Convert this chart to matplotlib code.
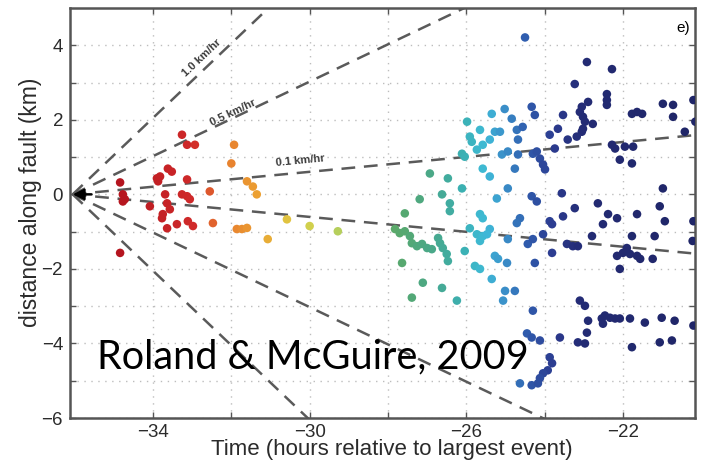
import numpy as np
import matplotlib
matplotlib.use("Agg")
import matplotlib.pyplot as plt
from matplotlib.colors import LinearSegmentedColormap

# event times (hours relative to largest event) and distance along fault (km)
times = [
    -34.84, -34.77, -34.72, -34.77, -34.84, -34.08,
    -33.90, -33.82, -33.62, -33.52, -33.87,
    -33.69, -33.64, -33.57, -33.75, -33.77,
    -33.64, -33.39, -33.26, -33.13, -32.93, -33.13,
    -33.26, -33.13, -33.06, -33.11, -32.98, -32.47,
    -32.55, -32.00, -31.93, -31.86, -31.60, -31.45, -31.35, -31.73, -31.60, -31.07,
    -30.58, -30.00, -29.28,
    -26.93, -26.47, -26.62, -26.42, -27.19, -27.57,
    -27.82, -27.70, -27.57, -27.44, -27.39, -27.26, -27.13, -27.00, -26.88,
    -26.72, -26.67, -26.60, -26.50, -26.47, -27.64, -27.11, -26.62, -27.39,
    -26.24, -26.42, -26.04, -26.11,
    -25.98, -25.65, -25.27, -25.14, -25.91, -25.86, -26.11, -26.04, -25.73, -25.58, -25.40,
    -25.58, -25.40, -25.65, -25.58,
    -25.91, -25.73, -25.65, -25.58, -25.40, -25.47,
    -25.27, -25.19, -25.78, -25.65, -25.35, -25.22,
    -25.35, -25.02, -24.84, -24.71, -24.56, -24.68, -24.33, -24.25,
    -25.09, -24.94, -24.68, -24.30, -24.76, -24.94,
    -24.33, -24.20, -24.63, -24.71, -24.94, -24.43, -24.30, -24.25, -24.96,
    -25.01, -24.76, -25.06, -24.30, -24.45, -24.33, -24.63, -24.33, -24.50,
    -24.20, -24.12, -24.04, -23.99,
    -24.12, -23.61, -23.87, -23.81, -23.92, -24.04, -24.12, -24.17,
    -23.10, -22.97, -22.89, -22.92, -23.15, -22.97,
    -22.54, -22.46, -22.33, -22.20, -22.08, -21.82, -22.51,
    -21.44, -21.01, -20.68, -21.77, -21.06, -20.75, -20.20,
    -23.23, -22.64, -22.38, -22.15, -22.51, -21.64, -21.06, -20.93, -20.20, -20.22,
    -23.53, -23.87, -23.81, -24.04,
    -23.43, -23.28, -23.15, -22.79, -23.81,
    -22.15, -22.00, -21.90, -21.82, -21.64, -21.56,
    -21.77, -22.08, -21.19, -21.24,
    -22.92, -22.28, -23.23, -22.41, -22.41, -22.41,
    -22.89, -23.05, -23.10, -23.02, -22.97, -23.02, -23.05,
    -22.77, -23.53, -23.66, -23.87, -23.18, -23.41, -23.74,
    -21.77, -21.64, -21.51, -22.28, -22.20, -21.95, -21.74,
    -22.08, -21.77, -20.98, -20.72, -20.72, -20.42, -20.20, -20.15,
    -20.98, -23.56,
]
dists = [
    0.32, 0.00, -0.13, -0.19, -1.57, -0.32,
    0.43, 0.48, 0.69, 0.61, 0.35,
    0.00, -0.24, -0.40, -0.53, -0.64,
    -0.91, -0.80, 1.60, 1.33, 1.33, 0.40,
    0.00, -0.05, -0.13, -0.72, -0.85, -0.77,
    0.08, 0.83, 1.33, -0.93, 0.35, 0.21, 0.00, -0.93, -0.90, -1.20,
    -0.67, -0.85, -0.99,
    0.56, 0.43, 0.00, -0.24, -0.13, -0.51,
    -0.93, -1.04, -0.99, -1.12, -1.31, -1.39, -1.33, -1.44, -1.47,
    -1.17, -1.31, -1.44, -1.60, -1.79, -1.84, -2.37, -2.51, -2.77,
    -2.85, -0.45, -1.52, 0.16,
    1.95, 1.73, 1.68, 1.68, 1.55, 1.41, 1.09, 1.01, 1.20, 1.33, 1.47,
    0.69, 0.48, -0.53, -0.64,
    -0.91, -1.07, -1.25, -1.12, -0.93, -1.07,
    -1.65, -1.73, -1.92, -2.00, -2.27, -0.11,
    2.16, 2.29, 2.03, 1.73, 1.81, 1.47, 2.35, 2.13,
    1.07, 1.15, 1.07, 1.09, 0.69, 0.16,
    -0.05, -0.19, -0.64, -0.77, -1.20, -1.33, -1.20, -1.84, -1.84,
    -2.59, -2.59, -2.85, -3.12, -3.73, -3.84, -5.07, -5.12, 4.21,
    1.15, 0.96, 0.80, 0.67,
    -3.92, -3.84, -4.37, -4.53, -4.72, -4.80, -4.93, -5.07,
    -2.85, -2.99, -3.39, -3.71, -3.97, -4.00,
    -3.33, -3.25, -3.31, -3.33, -3.33, -3.33, -3.47,
    -3.44, -3.31, -3.39, -4.10, -3.97, -3.92, -3.52,
    -0.37, -0.24, -0.53, -0.64, -0.80, -0.53, -0.32, -0.72, -0.72, -1.25,
    -0.59, -0.72, -0.80, -1.07,
    -1.33, -1.39, -1.39, -1.12, -1.57,
    -1.65, -1.57, -1.44, -1.60, -1.65, -1.73,
    -1.12, -2.00, -1.12, -1.73,
    3.55, 3.36, 2.96, 2.69, 2.53, 2.40,
    2.48, 2.35, 2.21, 2.08, 1.95, 1.76, 1.68,
    1.89, 2.13, 1.76, 1.60, 1.55, 1.47, 1.23,
    2.16, 2.21, 2.16, 1.33, 1.23, 1.28, 1.28,
    0.93, 0.83, 2.43, 2.40, 2.08, 1.68, 2.53, 1.95,
    0.16, 0.03,
]

# migration speeds drawn from the origin (km/hr)
speeds = [1.0, 0.5, 0.1, -0.1, -0.5, -1.0]
speed_labels = ["1.0 km/hr", "0.5 km/hr", "0.1 km/hr"]
label_times = [-32.75, -31.95, -30.25]
label_offsets = [0.35, 0.15, 0.32]
origin_time = -36.05

# colour by time: red (early) -> navy (late)
cnodes = [(-35.0, "#b3141e"), (-33.0, "#d02a2a"), (-32.3, "#e6762e"),
          (-31.3, "#eca232"), (-30.3, "#ddd046"), (-29.3, "#b6cf5c"),
          (-27.8, "#5aa86a"), (-26.8, "#49a88c"), (-26.1, "#3bb0b2"),
          (-25.5, "#3fbad8"), (-25.0, "#3a8ec8"), (-24.5, "#3060b0"),
          (-23.8, "#2c3c90"), (-23.0, "#232b74"), (-20.0, "#1f2566")]
tmin, tmax = cnodes[0][0], cnodes[-1][0]
cmap = LinearSegmentedColormap.from_list(
    "quake", [((t - tmin) / (tmax - tmin), c) for t, c in cnodes])

fig = plt.figure(figsize=(7.04, 4.70), dpi=100)
ax = fig.add_axes([0.0994, 0.1106, 0.8878, 0.8724])
ax.set_xlim(-36.12, -20.16)
ax.set_ylim(-6, 5)

grey = "#555555"
txt = "#2b2b2b"

# speed lines
xx = np.array([origin_time, -19.0])
for v in speeds:
    ax.plot(xx, v * (xx - origin_time), color="#5a5a5a", lw=1.8,
            dashes=(5.5, 3.5), zorder=2)

ax.scatter(times, dists, c=times, cmap=cmap, vmin=tmin, vmax=tmax,
           s=38, linewidths=0, zorder=3)

# speed labels along the lines
for v, lab, t, off in zip(speeds, speed_labels, label_times, label_offsets):
    p1 = ax.transData.transform((origin_time, 0))
    p2 = ax.transData.transform((origin_time + 1, v))
    ang = np.degrees(np.arctan2(p2[1] - p1[1], p2[0] - p1[0]))
    ax.text(t, v * (t - origin_time) + off, lab, rotation=ang,
            rotation_mode="anchor", ha="center", va="center",
            fontsize=8, fontweight="bold", color="#3a3a3a",
            family="Liberation Sans")

# origin marker
ax.annotate("", xy=(-36.12, 0), xytext=(-35.5, 0),
            arrowprops=dict(arrowstyle="-|>", color="k", lw=1.8,
                            mutation_scale=16), zorder=4)

ax.text(-20.47, 4.45, "e)", fontsize=11, color="k", ha="center",
        va="center", family="Liberation Sans")

ax.text(-35.43, -4.67, "Roland & McGuire, 2009", fontsize=28.5,
        color="k", ha="left", va="baseline", family="Lato", zorder=5)

ax.set_xticks(np.arange(-34, -21, 2))
ax.set_xticklabels(["\u221234", "", "\u221230", "", "\u221226", "", "\u221222"])
ax.set_yticks(np.arange(-6, 5, 1))
ax.set_yticklabels(["\u22126", "", "\u22124", "", "\u22122", "", "0", "",
                    "2", "", "4"])
ax.tick_params(direction="in", top=True, right=True, length=4, width=1,
               color=grey, labelsize=13.5, labelcolor=txt)
ax.tick_params(axis="y", pad=5)
ax.tick_params(axis="x", pad=4)
for lab in ax.get_xticklabels() + ax.get_yticklabels():
    lab.set_family("Liberation Sans")

ax.grid(True, color="#bdbdbd", lw=1, linestyle=(0, (1, 4)), zorder=0)
ax.set_axisbelow(True)
for s in ax.spines.values():
    s.set_color(grey)
    s.set_linewidth(1.8)

ax.set_xlabel("Time (hours relative to largest event)", fontsize=16,
              color=txt, family="Liberation Sans")
ax.set_ylabel("distance along fault (km)", fontsize=16.5, color=txt,
              family="Liberation Sans")
ax.xaxis.set_label_coords(0.515, -0.052)
ax.yaxis.set_label_coords(-0.045, 0.527)

fig.savefig("out.png", dpi=100)
